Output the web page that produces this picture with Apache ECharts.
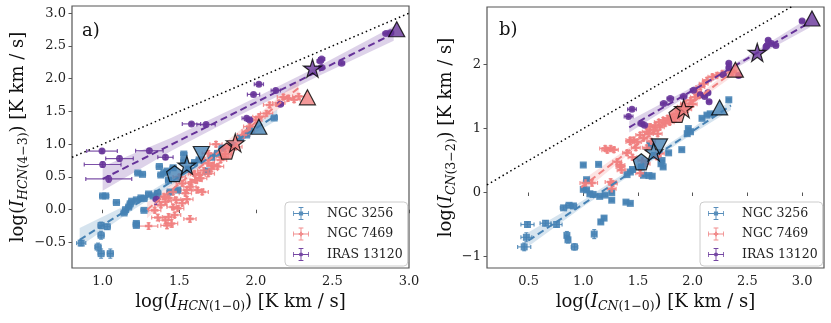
<!DOCTYPE html>
<html><head><meta charset="utf-8">
<script src="https://cdn.jsdelivr.net/npm/echarts@6/dist/echarts.min.js"></script>
<style>html,body{margin:0;padding:0;background:#fff}#c{width:831px;height:323px}</style>
</head><body><div id="c"></div>
<script>
// ---------- tick values ----------
const xTicksA = [1.0, 1.5, 2.0, 2.5, 3.0];
const yTicksA = [-0.5, 0, 0.5, 1.0, 1.5, 2.0, 2.5, 3.0];
const xTicksB = [0.5, 1.0, 1.5, 2.0, 2.5, 3.0];
const yTicksB = [-1, 0, 1, 2];
const seriesNames = ['NGC 3256', 'NGC 7469', 'IRAS 13120'];

// ---------- panel a data [x, y, xerr, yerr] ----------
const ngc3256_a = [
 [0.86,-0.51,0.03,0.04],[0.97,-0.57,0.02,0.06],[0.99,-0.67,0.02,0.07],[1.05,-0.67,0.02,0.07],
 [0.99,-0.39,0.02,0.06],[0.99,-0.24,0.02,0.05],[1.03,-0.26,0.02,0.04],[1.22,-0.21,0.02,0.03],
 [1.22,-0.24,0.02,0.03],[1.00,0.21,0.02,0.02],[1.02,0.21,0.02,0.02],[1.09,0.11,0.02,0.02],
 [1.14,-0.05,0.02,0.02],[1.15,0.00,0.02,0.02],[1.17,0.04,0.02,0.02],[1.18,0.09,0.02,0.02],
 [1.19,0.13,0.02,0.02],[1.22,0.15,0.02,0.02],[1.25,0.18,0.02,0.02],[1.27,-0.01,0.02,0.02],
 [1.27,0.17,0.02,0.02],[1.30,0.24,0.02,0.02],[1.33,0.21,0.02,0.02],[1.36,0.25,0.02,0.02],
 [1.23,0.56,0.02,0.02],[1.26,0.54,0.02,0.02],[1.37,0.66,0.02,0.02],[1.38,0.53,0.02,0.02],
 [1.40,0.56,0.02,0.02],[1.42,0.59,0.02,0.02],[1.44,0.27,0.02,0.02],[1.49,0.30,0.02,0.02],
 [1.53,0.85,0.02,0.02],[1.53,0.75,0.02,0.02],[1.46,0.64,0.02,0.02],[1.60,0.72,0.02,0.02],
 [1.63,0.76,0.02,0.02],[1.68,0.59,0.02,0.02],[1.71,0.80,0.02,0.02],[1.78,0.94,0.02,0.02],
 [1.85,0.98,0.02,0.02],[1.90,1.09,0.02,0.02],[1.94,1.14,0.02,0.02],[1.96,1.21,0.02,0.02],
 [2.12,1.40,0.02,0.02],[1.75,0.86,0.02,0.02],[1.43,0.45,0.02,0.02],[1.56,0.62,0.02,0.02]
];
const ngc7469_a = [
 [1.30,-0.25,0.06,0.05],[1.36,-0.12,0.04,0.05],[1.41,-0.16,0.04,0.05],[1.43,-0.11,0.04,0.05],
 [1.45,-0.21,0.04,0.06],[1.42,-0.24,0.04,0.05],[1.57,-0.14,0.04,0.05],[1.34,-0.01,0.04,0.04],
 [1.38,0.07,0.04,0.04],[1.41,0.12,0.04,0.04],[1.46,0.04,0.04,0.04],[1.48,0.15,0.04,0.04],
 [1.52,0.10,0.04,0.04],[1.55,0.16,0.04,0.04],[1.65,0.27,0.04,0.04],[1.54,0.25,0.04,0.04],
 [1.57,0.35,0.04,0.04],[1.61,0.45,0.04,0.04],[1.63,0.53,0.04,0.04],[1.66,0.60,0.04,0.04],
 [1.60,0.55,0.04,0.04],[1.52,0.40,0.04,0.04],[1.50,0.50,0.04,0.04],[1.46,0.27,0.04,0.04],
 [1.40,0.20,0.04,0.04],[1.47,-0.08,0.04,0.04],[1.69,0.71,0.04,0.04],[1.66,0.76,0.04,0.04],
 [1.69,0.55,0.04,0.04],[1.75,0.66,0.04,0.04],[1.74,1.00,0.04,0.04],[1.69,0.86,0.04,0.04],
 [1.77,0.76,0.04,0.04],[1.83,0.94,0.04,0.04],[1.92,1.14,0.04,0.04],[1.96,1.27,0.04,0.04],
 [2.00,1.37,0.04,0.04],[2.02,1.42,0.04,0.04],[2.07,1.47,0.04,0.04],[2.09,1.60,0.04,0.04],
 [2.15,1.63,0.04,0.04],[2.18,1.72,0.04,0.04],[2.21,1.70,0.04,0.04],[2.25,1.68,0.04,0.04],
 [2.28,1.73,0.04,0.04],[1.72,0.68,0.04,0.04],[1.80,0.85,0.04,0.04],[1.87,0.96,0.04,0.04],
 [1.95,1.20,0.04,0.04],[1.58,0.42,0.04,0.04],[1.64,0.48,0.04,0.04],[1.55,0.30,0.04,0.04],
 [1.43,0.18,0.04,0.04],[1.49,0.02,0.04,0.04],[1.62,0.30,0.04,0.04],[1.71,0.62,0.04,0.04],
 [1.78,0.80,0.04,0.04]
];
const iras13120_a = [
 [0.996,0.895,0.10,0.03],[1.00,0.69,0.12,0.04],[1.04,0.47,0.15,0.05],[1.11,0.78,0.09,0.04],
 [1.305,0.90,0.09,0.03],[1.41,0.80,0.05,0.03],[1.35,0.16,0.02,0.08],[1.58,1.31,0.06,0.02],
 [1.675,1.30,0.06,0.02],[1.94,1.395,0.03,0.02],[1.96,1.37,0.02,0.02],[1.985,1.76,0.04,0.02],
 [2.02,1.915,0.03,0.02],[2.13,1.82,0.03,0.02],[2.16,1.61,0.02,0.02],[2.42,2.27,0.02,0.02],
 [2.43,2.30,0.02,0.02],[2.43,2.17,0.02,0.02],[2.56,2.235,0.02,0.02],[2.85,2.69,0.02,0.02],
 [2.88,2.70,0.02,0.02]
];

// ---------- panel b data [x, y, xerr, yerr] ----------
const ngc3256_b = [
 [0.46,-0.85,0.06,0.06],[0.48,-0.70,0.05,0.07],[0.49,-0.50,0.06,0.04],[0.655,-0.48,0.05,0.04],
 [0.756,-0.50,0.05,0.04],[0.82,-0.24,0.03,0.03],[0.87,-0.20,0.03,0.03],[0.91,-0.21,0.03,0.03],
 [0.85,-0.67,0.02,0.06],[0.86,-0.74,0.02,0.05],[0.92,-0.85,0.03,0.05],[1.10,-0.65,0.02,0.07],
 [1.16,-0.46,0.02,0.03],[1.19,-0.40,0.02,0.03],[1.00,0.05,0.02,0.02],[1.03,0.04,0.02,0.02],
 [1.06,-0.02,0.02,0.02],[1.09,-0.03,0.02,0.02],[1.00,0.43,0.02,0.02],[1.14,0.44,0.02,0.02],
 [1.03,0.20,0.02,0.02],[1.15,-0.06,0.02,0.02],[1.20,-0.04,0.02,0.02],[1.26,-0.12,0.02,0.02],
 [1.26,0.00,0.02,0.02],[1.39,-0.15,0.02,0.02],[1.43,-0.17,0.02,0.02],[1.43,0.32,0.02,0.02],
 [1.45,0.36,0.02,0.02],[1.40,0.28,0.02,0.02],[1.55,0.27,0.02,0.02],[1.60,0.265,0.02,0.02],
 [1.63,0.255,0.02,0.02],[1.72,0.50,0.02,0.02],[1.73,0.40,0.02,0.02],[1.71,0.45,0.02,0.02],
 [1.78,0.62,0.02,0.02],[1.90,0.67,0.02,0.02],[1.61,0.74,0.02,0.02],[1.65,0.58,0.02,0.02],
 [1.95,0.92,0.02,0.02],[1.98,0.95,0.02,0.02],[1.96,1.00,0.02,0.02],[2.085,1.16,0.02,0.02],
 [2.13,1.21,0.02,0.02],[2.16,1.23,0.02,0.02],[2.33,1.45,0.02,0.02],[1.53,0.40,0.02,0.02]
];
const ngc7469_b = [
 [1.02,0.15,0.05,0.05],[1.08,0.15,0.05,0.05],[1.25,0.165,0.05,0.05],[1.26,0.06,0.04,0.05],
 [1.27,0.14,0.04,0.04],[1.20,0.69,0.05,0.04],[1.22,0.66,0.05,0.04],[1.25,0.69,0.04,0.04],
 [1.28,0.67,0.04,0.04],[1.31,0.48,0.04,0.04],[1.34,0.43,0.04,0.04],[1.34,0.40,0.04,0.04],
 [1.35,0.35,0.04,0.04],[1.43,0.79,0.04,0.04],[1.43,0.82,0.04,0.04],[1.46,0.82,0.04,0.04],
 [1.49,0.79,0.04,0.04],[1.52,0.90,0.04,0.04],[1.52,0.30,0.04,0.04],[1.54,0.50,0.04,0.04],
 [1.57,0.45,0.04,0.04],[1.58,0.95,0.04,0.04],[1.61,1.03,0.04,0.04],[1.66,1.05,0.04,0.04],
 [1.67,0.56,0.04,0.04],[1.69,1.10,0.04,0.04],[1.70,0.61,0.04,0.04],[1.73,1.13,0.04,0.04],
 [1.77,1.16,0.04,0.04],[1.81,1.18,0.04,0.04],[1.86,1.23,0.04,0.04],[1.90,1.34,0.04,0.04],
 [1.93,1.39,0.04,0.04],[1.98,1.44,0.04,0.04],[2.02,1.49,0.04,0.04],[2.04,1.57,0.04,0.04],
 [2.07,1.65,0.04,0.04],[2.10,1.70,0.04,0.04],[2.13,1.755,0.04,0.04],[2.18,1.81,0.04,0.04],
 [2.22,1.83,0.04,0.04],[2.27,1.86,0.04,0.04],[2.36,1.88,0.04,0.04],[1.55,0.85,0.04,0.04],
 [1.60,0.92,0.04,0.04],[1.64,0.98,0.04,0.04],[1.70,1.02,0.04,0.04],[1.75,1.08,0.04,0.04],
 [1.79,1.10,0.04,0.04],[1.62,0.80,0.04,0.04],[1.48,0.70,0.04,0.04],[1.40,0.62,0.04,0.04],
 [1.84,1.15,0.04,0.04],[1.95,1.30,0.04,0.04],[2.00,1.38,0.04,0.04],[1.68,0.92,0.04,0.04],
 [1.58,0.70,0.04,0.04],[1.45,0.55,0.04,0.04],[1.88,1.28,0.04,0.04],[2.06,1.52,0.04,0.04]
];
const iras13120_b = [
 [1.445,1.30,0.04,0.02],[1.414,1.19,0.04,0.02],[1.53,1.08,0.03,0.02],[1.56,1.05,0.03,0.02],
 [1.735,1.39,0.03,0.02],[1.795,1.47,0.03,0.02],[1.917,1.50,0.03,0.02],[2.008,1.60,0.03,0.02],
 [2.07,1.53,0.02,0.02],[2.11,1.50,0.02,0.02],[2.15,1.42,0.02,0.02],[2.14,1.56,0.02,0.02],
 [2.28,1.84,0.02,0.02],[2.33,1.95,0.02,0.02],[2.33,2.02,0.02,0.02],[2.42,1.83,0.02,0.02],
 [2.68,2.30,0.02,0.02],[2.69,2.38,0.02,0.02],[2.72,2.33,0.02,0.02],[2.76,2.30,0.02,0.02],
 [2.67,2.28,0.02,0.02],[3.00,2.68,0.02,0.02]
];

// ---------- fit lines [x, y] ----------
const fitA_3256 = [[0.85,-0.46],[2.14,1.45]];
const fitA_7469 = [[1.29,0.0],[2.28,1.86]];
const fitA_13120 = [[1.0,0.47],[2.9,2.69]];
const fitB_3256 = [[0.5,-0.75],[2.35,1.36]];
const fitB_7469 = [[0.98,0.08],[2.4,1.93]];
const fitB_13120 = [[1.42,1.02],[3.07,2.66]];
// ---------- confidence bands [x, low, high] ----------
const bandA_3256 = [[0.85,-0.56,-0.28],[1.2,0.0,0.12],[1.5,0.45,0.55],[1.8,0.90,0.99],[2.14,1.37,1.53]];
const bandA_7469 = [[1.29,-0.13,0.11],[1.6,0.55,0.65],[1.9,1.12,1.22],[2.28,1.76,1.98]];
const bandA_13120 = [[1.0,0.29,0.66],[1.45,0.90,1.10],[1.9,1.45,1.60],[2.4,2.03,2.18],[2.9,2.58,2.80]];
const bandB_3256 = [[0.5,-0.84,-0.62],[1.0,-0.22,-0.12],[1.5,0.35,0.44],[2.0,0.92,1.01],[2.35,1.29,1.44]];
const bandB_7469 = [[0.98,-0.02,0.18],[1.5,0.72,0.80],[2.0,1.37,1.45],[2.4,1.86,2.00]];
const bandB_13120 = [[1.42,0.94,1.12],[2.0,1.56,1.65],[2.5,2.05,2.13],[3.07,2.58,2.74]];
// ---------- one-to-one lines ----------
const oneToOneA = [[0.8,0.8],[3.0,3.0]];
const oneToOneB = [[0.12,0.12],[3.2,3.2]];
// ---------- highlighted points (order: NGC 3256, NGC 7469, IRAS 13120) ----------
const pentagonA = [[1.47,0.55],[1.81,0.895]];
const starA = [[1.55,0.68],[1.866,1.02],[2.37,2.16]];
const triDownA = [[1.644,0.85]];
const triUpA = [[2.02,1.266],[2.337,1.716],[2.92,2.755]];
const pentagonB = [[1.53,0.48],[1.857,1.22]];
const starB = [[1.643,0.635],[1.917,1.31],[2.59,2.19]];
const triDownB = [[1.697,0.72]];
const triUpB = [[2.246,1.33],[2.39,1.92],[3.09,2.72]];

// ---------- styling ----------
const FONT = 'DejaVu Serif';
const COLORS = ['#4682b4', '#f08080', '#663399'];
const FRAME = '#555';
const STAR = 'path://M50,0 L61.2,34.5 L97.6,34.5 L68.2,55.9 L79.4,90.5 L50,69.1 L20.6,90.5 L31.8,55.9 L2.4,34.5 L38.8,34.5 Z';
const PENT = 'path://M50,0 L97.6,34.5 L79.4,90.5 L20.6,90.5 L2.4,34.5 Z';
const PLUS = 'path://M33,0 H67 V33 H100 V67 H67 V100 H33 V67 H0 V33 H33 Z';
const MARKERS = ['rect', PLUS, 'circle'];

function hexA(hex, a){const n=parseInt(hex.slice(1),16);return `rgba(${n>>16},${(n>>8)&255},${n&255},${a})`;}

const legendBar = 'M0,37 H100 V43 H0 Z M47,0 H53 V80 H47 Z M0,25 H5 V55 H0 Z M95,25 H100 V55 H95 Z M35,0 H65 V5 H35 Z M35,75 H65 V80 H35 Z ';
const LEG_ICONS = [
  'path://' + legendBar + 'M37,27 H63 V53 H37 Z',
  'path://' + legendBar + 'M44,26 H56 V34 H64 V46 H56 V54 H44 V46 H36 V34 H44 Z',
  'path://' + legendBar + 'M37,40 A13,13 0 1 1 63,40 A13,13 0 1 1 37,40 Z'
];

function errSeries(data, ci, gi){
  const col = hexA(COLORS[ci], 0.85);
  return {
    type:'custom', xAxisIndex:gi, yAxisIndex:gi, data:data, encode:{x:0,y:1}, z:2, silent:true, clip:true,
    renderItem:function(params, api){
      const x=api.value(0), y=api.value(1), xe=api.value(2), ye=api.value(3);
      const l=api.coord([x-xe,y]), r=api.coord([x+xe,y]), b=api.coord([x,y-ye]), t=api.coord([x,y+ye]);
      const c=2;
      const st={stroke:col, lineWidth:1.2, fill:null};
      return {type:'group', children:[
        {type:'line', shape:{x1:l[0],y1:l[1],x2:r[0],y2:r[1]}, style:st},
        {type:'line', shape:{x1:b[0],y1:b[1],x2:t[0],y2:t[1]}, style:st},
        {type:'line', shape:{x1:l[0],y1:l[1]-c,x2:l[0],y2:l[1]+c}, style:st},
        {type:'line', shape:{x1:r[0],y1:r[1]-c,x2:r[0],y2:r[1]+c}, style:st},
        {type:'line', shape:{x1:b[0]-c,y1:b[1],x2:b[0]+c,y2:b[1]}, style:st},
        {type:'line', shape:{x1:t[0]-c,y1:t[1],x2:t[0]+c,y2:t[1]}, style:st}
      ]};
    }
  };
}
function pointSeries(data, ci, gi){
  return {type:'scatter', name:seriesNames[ci], xAxisIndex:gi, yAxisIndex:gi, z:3,
    data:data.map(d=>[d[0],d[1]]), symbol:MARKERS[ci], symbolSize: ci===1?7.5:7,
    itemStyle:{color:COLORS[ci], opacity:0.88}, silent:true};
}
function bandSeries(band, ci, gi){
  return {type:'custom', xAxisIndex:gi, yAxisIndex:gi, data:band, encode:{x:0,y:[1,2]}, z:1, silent:true, clip:true,
    renderItem:function(params, api){
      if(params.dataIndex!==0) return null;
      const pts=[];
      band.forEach(r=>pts.push(api.coord([r[0],r[2]])));
      for(let i=band.length-1;i>=0;i--) pts.push(api.coord([band[i][0],band[i][1]]));
      return {type:'polygon', shape:{points:pts}, style:{fill:hexA(COLORS[ci],0.22)}};
    }};
}
function fitSeries(fit, ci, gi){
  return {type:'line', xAxisIndex:gi, yAxisIndex:gi, data:fit, showSymbol:false, symbol:'none', z:4, silent:true,
    lineStyle:{color:COLORS[ci], width:2, type:[7,4]}};
}
function oneSeries(d, gi){
  return {type:'line', xAxisIndex:gi, yAxisIndex:gi, data:d, symbol:'none', z:4, silent:true,
    lineStyle:{color:'#000', width:1.5, type:[1.5,3]}};
}
function specialSeries(data, symbol, colorIdx, size, rotate, gi){
  return {type:'scatter', xAxisIndex:gi, yAxisIndex:gi, z:6, silent:true, symbol:symbol, symbolSize:size, symbolRotate:rotate||0,
    data:data.map((d,i)=>({value:d, itemStyle:{color:COLORS[colorIdx[i]]}})),
    itemStyle:{borderColor:'#000', borderWidth:1.2}};
}

function axName(subIt, subUp){
  return '{n|log(}{i|I}{si|' + subIt + '}{su|' + subUp + '}{n|) [K km / s]}';
}
const RICH = {
  n:{fontFamily:FONT, fontSize:18, color:'#111'},
  i:{fontFamily:FONT, fontSize:18, fontStyle:'italic', color:'#111'},
  si:{fontFamily:FONT, fontSize:12.5, fontStyle:'italic', color:'#111', padding:[10,0,0,0]},
  su:{fontFamily:FONT, fontSize:12.5, color:'#111', padding:[10,0,0,0]}
};
function fmt1(v){return (v<0?'\u2212':'') + Math.abs(v).toFixed(1);}
function fmt0(v){return (v<0?'\u2212':'') + Math.abs(v).toFixed(0);}

function xAx(gi, min, max, ticks, f, name){
  return {gridIndex:gi, type:'value', min:min, max:max, axisLine:{show:false}, splitLine:{show:false},
    axisTick:{show:true, length:3.5, lineStyle:{color:FRAME, width:1}, customValues:ticks},
    axisLabel:{customValues:ticks, formatter:f, fontFamily:FONT, fontSize:13, color:'#222', margin:7},
    name:name, nameLocation:'middle', nameGap:22, nameTextStyle:{rich:RICH}};
}
function yAx(gi, min, max, ticks, f, name, gap){
  return {gridIndex:gi, type:'value', min:min, max:max, axisLine:{show:false}, splitLine:{show:false},
    axisTick:{show:true, length:3.5, lineStyle:{color:FRAME, width:1}, customValues:ticks},
    axisLabel:{customValues:ticks, formatter:f, fontFamily:FONT, fontSize:13, color:'#222', margin:6},
    name:name, nameLocation:'middle', nameGap:gap, nameRotate:90, nameTextStyle:{rich:RICH}};
}
function legendCfg(left){
  return {left:left, top:202, orient:'vertical', itemWidth:16, itemHeight:13, itemGap:7.5,
    padding:[5,5,5,8], backgroundColor:'rgba(255,255,255,0.85)', borderColor:'#ccc', borderWidth:1, borderRadius:4,
    selectedMode:false,
    textStyle:{fontFamily:FONT, fontSize:12.5, color:'#222', padding:[0,0,0,13]},
    data:seriesNames.map((n,i)=>({name:n, icon:LEG_ICONS[i], itemStyle:{color:COLORS[i], opacity:0.9}}))};
}

const series = [];
[[bandA_3256,fitA_3256,ngc3256_a],[bandA_7469,fitA_7469,ngc7469_a],[bandA_13120,fitA_13120,iras13120_a]].forEach((s,ci)=>{
  series.push(bandSeries(s[0],ci,0), errSeries(s[2],ci,0), pointSeries(s[2],ci,0), fitSeries(s[1],ci,0));
});
[[bandB_3256,fitB_3256,ngc3256_b],[bandB_7469,fitB_7469,ngc7469_b],[bandB_13120,fitB_13120,iras13120_b]].forEach((s,ci)=>{
  series.push(bandSeries(s[0],ci,1), errSeries(s[2],ci,1), pointSeries(s[2],ci,1), fitSeries(s[1],ci,1));
});
series.push(oneSeries(oneToOneA,0), oneSeries(oneToOneB,1));
series.push(
  specialSeries(pentagonA, PENT, [0,1], 16, 0, 0),
  specialSeries(starA, STAR, [0,1,2], 18, 0, 0),
  specialSeries(triDownA, 'triangle', [0], [16,15], 180, 0),
  specialSeries(triUpA, 'triangle', [0,1,2], [16,15], 0, 0),
  specialSeries(pentagonB, PENT, [0,1], 16, 0, 1),
  specialSeries(starB, STAR, [0,1,2], 18, 0, 1),
  specialSeries(triDownB, 'triangle', [0], [16,15], 180, 1),
  specialSeries(triUpB, 'triangle', [0,1,2], [16,15], 0, 1)
);

const chart = echarts.init(document.getElementById('c'), null, {renderer:'canvas'});
chart.setOption({
  animation:false,
  backgroundColor:'#fff',
  grid:[
    {left:72, right:422, top:6, bottom:55, show:true, borderColor:FRAME, borderWidth:1.2, backgroundColor:'transparent'},
    {left:487, right:7, top:7, bottom:55, show:true, borderColor:FRAME, borderWidth:1.2, backgroundColor:'transparent'}
  ],
  xAxis:[
    xAx(0, 0.8, 3.0, xTicksA, fmt1, axName('HCN','(1\u22120)')),
    xAx(1, 0.12, 3.2, xTicksB, fmt1, axName('CN','(1\u22120)'))
  ],
  yAxis:[
    yAx(0, -0.89, 3.11, yTicksA, fmt1, axName('HCN','(4\u22123)'), 42),
    yAx(1, -1.18, 2.9, yTicksB, fmt0, axName('CN','(3\u22122)'), 28)
  ],
  legend:[legendCfg(285), legendCfg(700)],
  graphic:[
    {type:'text', left:82, top:22, style:{text:'a)', font:'18px "DejaVu Serif"', fill:'#111'}},
    {type:'text', left:499, top:21, style:{text:'b)', font:'18px "DejaVu Serif"', fill:'#111'}}
  ],
  series:series
});
</script></body></html>
